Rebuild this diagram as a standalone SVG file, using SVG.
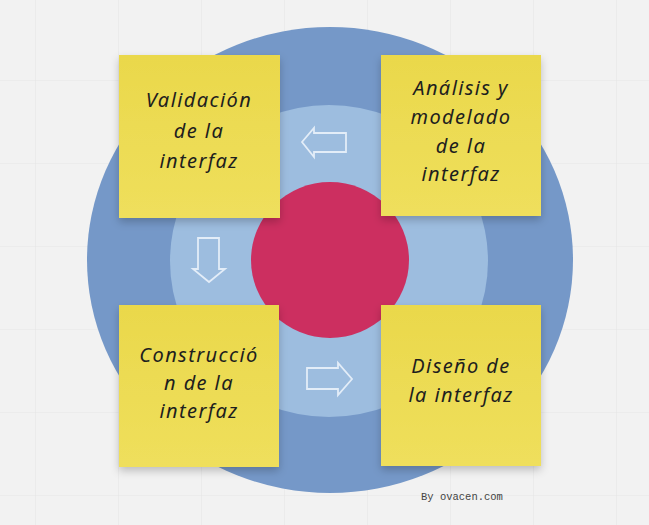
<svg xmlns="http://www.w3.org/2000/svg" width="649" height="525" viewBox="0 0 649 525">
<defs>
<pattern id="grid" x="35" y="80" width="83" height="83" patternUnits="userSpaceOnUse">
<path d="M0 0H83M0 0V83" fill="none" stroke="#e6e6e6" stroke-width="1.2"/>
</pattern>
<linearGradient id="note" x1="0" y1="0" x2="0" y2="1">
<stop offset="0" stop-color="#ead84b"/>
<stop offset="1" stop-color="#efdf5c"/>
</linearGradient>
<filter id="shadow" x="-10%" y="-10%" width="120%" height="130%">
<feDropShadow dx="0" dy="4" stdDeviation="4" flood-color="#000" flood-opacity="0.22"/>
</filter>
<style>
.note{fill:url(#note);filter:url(#shadow)}
.lbl{font-family:"Noto Sans","DejaVu Sans",sans-serif;font-style:italic;font-size:20px;letter-spacing:1.4px;fill:#1e1e1e;text-anchor:middle}
.arrow{fill:none;stroke:#e3edf8;stroke-width:1.8;stroke-linejoin:miter}
</style>
</defs>
<rect width="649" height="525" fill="#f2f2f2"/>
<rect width="649" height="525" fill="url(#grid)"/>
<g id="rings">
<ellipse cx="330" cy="260" rx="243" ry="233" fill="#7598c8"/>
<ellipse cx="329" cy="261" rx="159" ry="156" fill="#9dbddf"/>
<ellipse cx="330" cy="260" rx="79" ry="78" fill="#cc2f60"/>
</g>
<g id="connectors">
<polygon class="arrow" points="302,142 314,128 314,133 346,133 346,152 314,152 314,157"/>
<polygon class="arrow" points="198,238 219,238 219,269 225,269 209,282 193,269 198,269"/>
<polygon class="arrow" points="307,368 338,368 338,363 352,379 338,395 338,389 307,389"/>
</g>
<g id="validacion">
<rect class="note" x="119" y="55" width="161" height="163"/>
<text class="lbl" x="199" y="107">Validación</text>
<text class="lbl" x="199" y="138">de la</text>
<text class="lbl" x="199" y="168">interfaz</text>
</g>
<g id="analisis">
<rect class="note" x="381" y="55" width="160" height="161"/>
<text class="lbl" x="461" y="95">Análisis y</text>
<text class="lbl" x="461" y="124">modelado</text>
<text class="lbl" x="461" y="153">de la</text>
<text class="lbl" x="461" y="181">interfaz</text>
</g>
<g id="construccion">
<rect class="note" x="119" y="305" width="160" height="162"/>
<text class="lbl" x="199" y="362">Construcció</text>
<text class="lbl" x="199" y="390">n de la</text>
<text class="lbl" x="199" y="418">interfaz</text>
</g>
<g id="diseno">
<rect class="note" x="381" y="305" width="160" height="161"/>
<text class="lbl" x="461" y="373">Diseño de</text>
<text class="lbl" x="461" y="402">la interfaz</text>
</g>
<text x="421" y="500" font-family="Liberation Mono, monospace" font-size="10.5" fill="#444">By ovacen.com</text>
</svg>
